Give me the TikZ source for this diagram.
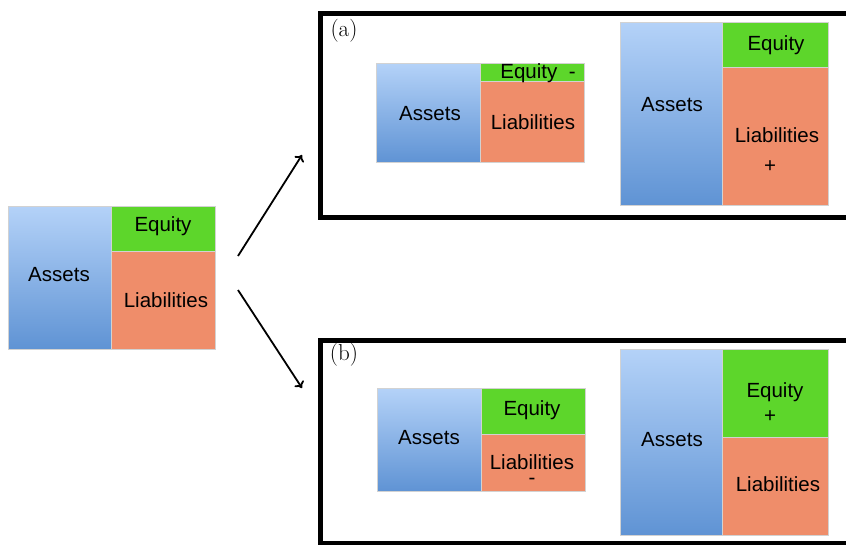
\documentclass[tikz,border=0pt]{standalone}
\usepackage{fontspec}
\usetikzlibrary{arrows.meta}
\setsansfont{Liberation Sans}
\definecolor{assettop}{HTML}{B4D2F8}
\definecolor{assetbot}{HTML}{5F93D4}
\definecolor{equitygreen}{HTML}{5DD62B}
\definecolor{liabsalmon}{HTML}{EF8D6A}

\tikzset{
  blk/.style={draw=gray!35, line width=0.8pt, anchor=north west, inner sep=0pt},
  asset/.style={blk, top color=assettop, bottom color=assetbot},
  equity/.style={blk, fill=equitygreen},
  liab/.style={blk, fill=liabsalmon},
  sz/.style 2 args={minimum width=#1pt, minimum height=#2pt},
  lbl/.style={font=\sffamily\fontsize{20.5}{22}\selectfont, inner sep=0pt},
  frame/.style={draw, line width=5pt, anchor=north west, inner sep=0pt},
  tag/.style={font=\fontsize{23}{25}\selectfont, inner sep=0pt}
}

\begin{document}
\begin{tikzpicture}[x=1pt, y=-1pt, >={To[length=6pt,width=11pt]}, ->, line width=1.8pt]
  \useasboundingbox (0,0) rectangle (846,544);

  % starting balance sheet
  \node[asset, sz={103}{143}] (A0) at (8,206) {};
  \node[equity, sz={104}{45}] (E0) at (111,206) {};
  \node[liab, sz={104}{98}] (L0) at (111,251) {};
  \node[lbl] (tA0) at (59,275) {Assets};
  \node[lbl] (tE0) at (163,226) {Equity};
  \node[lbl] (tL0) at (166,300) {Liabilities};

  % case (a)
  \node[frame, sz={532}{204}] (fa) at (318,11) {};
  \node[tag] (la) at (344,31) {(a)};
  \node[asset, sz={104}{99}] (Aa1) at (376,63) {};
  \node[equity, sz={104}{18}] (Ea1) at (480,63) {};
  \node[liab, sz={104}{81}] (La1) at (480,81) {};
  \node[lbl] (tAa1) at (430,114) {Assets};
  \node[lbl] (tEa1) at (538,73) {Equity\ \ -};
  \node[lbl] (tLa1) at (533,122) {Liabilities};

  \node[asset, sz={102}{183}] (Aa2) at (620,22) {};
  \node[equity, sz={106}{45}] (Ea2) at (722,22) {};
  \node[liab, sz={106}{138}] (La2) at (722,67) {};
  \node[lbl] (tAa2) at (672,105) {Assets};
  \node[lbl] (tEa2) at (776,45) {Equity};
  \node[lbl] (tLa2) at (777,135) {Liabilities};
  \node[lbl] (pLa2) at (770,167) {+};

  % case (b)
  \node[frame, sz={532}{203}] (fb) at (318,338) {};
  \node[tag] (lb) at (344,355) {(b)};
  \node[asset, sz={104}{103}] (Ab1) at (377,388) {};
  \node[equity, sz={104}{46}] (Eb1) at (481,388) {};
  \node[liab, sz={104}{57}] (Lb1) at (481,434) {};
  \node[lbl] (tAb1) at (429,438) {Assets};
  \node[lbl] (tEb1) at (532,410) {Equity};
  \node[lbl, align=center, anchor=north] (tLb1) at (532,454) {Liabilities\\[-7pt]-};

  \node[asset, sz={102}{186}] (Ab2) at (620,349) {};
  \node[equity, sz={106}{88}] (Eb2) at (722,349) {};
  \node[liab, sz={106}{98}] (Lb2) at (722,437) {};
  \node[lbl] (tAb2) at (672,440) {Assets};
  \node[lbl] (tEb2) at (775,392) {Equity};
  \node[lbl] (pEb2) at (770,417) {+};
  \node[lbl] (tLb2) at (778,484) {Liabilities};

  % arrows
  \coordinate (s1) at (238,256);
  \coordinate (e1) at (302,155);
  \coordinate (s2) at (238,290);
  \coordinate (e2) at (302,388);
  \draw (s1) -- (e1);
  \draw (s2) -- (e2);
\end{tikzpicture}
\end{document}
